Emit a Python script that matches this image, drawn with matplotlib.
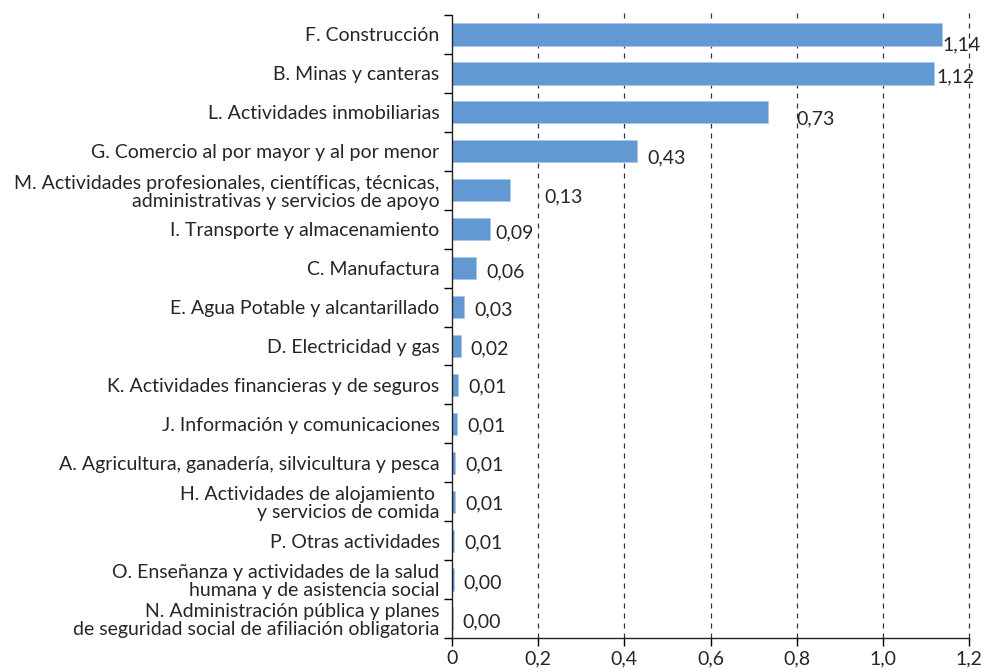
import numpy as np
import matplotlib
matplotlib.use('Agg')
import matplotlib.pyplot as plt
import matplotlib.ticker as ticker

# data (top to bottom, as in the chart)
sectores = [
    'F. Construcción',
    'B. Minas y canteras',
    'L. Actividades inmobiliarias',
    'G. Comercio al por mayor y al por menor',
    'M. Actividades profesionales, científicas, técnicas,\nadministrativas y servicios de apoyo',
    'I. Transporte y almacenamiento',
    'C. Manufactura',
    'E. Agua Potable y alcantarillado',
    'D. Electricidad y gas',
    'K. Actividades financieras y de seguros',
    'J. Información y comunicaciones',
    'A. Agricultura, ganadería, silvicultura y pesca',
    'H. Actividades de alojamiento \ny servicios de comida',
    'P. Otras actividades',
    'O. Enseñanza y actividades de la salud\nhumana y de asistencia social',
    'N. Administración pública y planes\nde seguridad social de afiliación obligatoria',
]
valores = [1.137, 1.118, 0.733, 0.430, 0.135, 0.088, 0.056, 0.027,
           0.020, 0.013, 0.012, 0.008, 0.007, 0.005, 0.004, 0.003]
etiquetas = ['1,14', '1,12', '0,73', '0,43', '0,13', '0,09', '0,06', '0,03',
             '0,02', '0,01', '0,01', '0,01', '0,01', '0,01', '0,00', '0,00']
xticks = [0, 0.2, 0.4, 0.6, 0.8, 1.0, 1.2]
xticklabels = ['0', '0,2', '0,4', '0,6', '0,8', '1,0', '1,2']

# label offsets in pixels (dx right, dy down) from bar end
desplaz = [(1, 10), (3, 3), (29, 7), (10, 7), (34, 7), (5, 4), (10, 4), (11, 3),
           (10, 3), (11, 2), (10, 2), (10, 2), (10, 2), (10, 2), (10, 3), (9, 3)]

plt.rcParams['font.family'] = ['Lato', 'DejaVu Sans']
tam = 14
azul = '#6399d2'
txt = '#262626'

fig = plt.figure(figsize=(9.9, 6.69), dpi=100)
ax = fig.add_axes([452/990, 1 - 638/669, 517/990, 623/669])

n = len(sectores)
ypos = np.arange(n)
ax.barh(ypos, valores, height=0.57, color=azul, edgecolor='#a9c4e6',
        linewidth=0.5, zorder=3)

for y, v, lab, (dx, dy) in zip(ypos, valores, etiquetas, desplaz):
    ax.annotate(lab, xy=(v, y), xytext=(dx, -dy), textcoords='offset pixels',
                ha='left', va='center', fontsize=tam, color=txt)

ax.set_ylim(n - 0.5, -0.5)
ax.set_xlim(0, 1.2)

# y axis: labels at centres, ticks at category boundaries
ax.set_yticks(ypos)
ax.set_yticklabels(sectores, fontsize=tam, color=txt, linespacing=1.08)
ax.yaxis.set_minor_locator(ticker.FixedLocator(np.arange(-0.5, n, 1.0)))
ax.tick_params(axis='y', which='major', length=0, pad=9)
ax.tick_params(axis='y', which='minor', length=6, width=1.0, direction='out')

ax.set_xticks(xticks)
ax.set_xticklabels(xticklabels, fontsize=tam, color=txt)
ax.tick_params(axis='x', which='major', length=6, width=1.0, direction='out', pad=3)

# dashed vertical gridlines
for x in xticks[1:]:
    ax.axvline(x, ymin=0, ymax=1.006, color='#333333', linestyle=(0, (4, 4)),
               linewidth=0.9, zorder=0, clip_on=False)

for s in ['top', 'right']:
    ax.spines[s].set_visible(False)
for s in ['left', 'bottom']:
    ax.spines[s].set_linewidth(1.0)
    ax.spines[s].set_color('#222222')
ax.spines['left'].set_zorder(4)

plt.savefig('out.png', dpi=100)
